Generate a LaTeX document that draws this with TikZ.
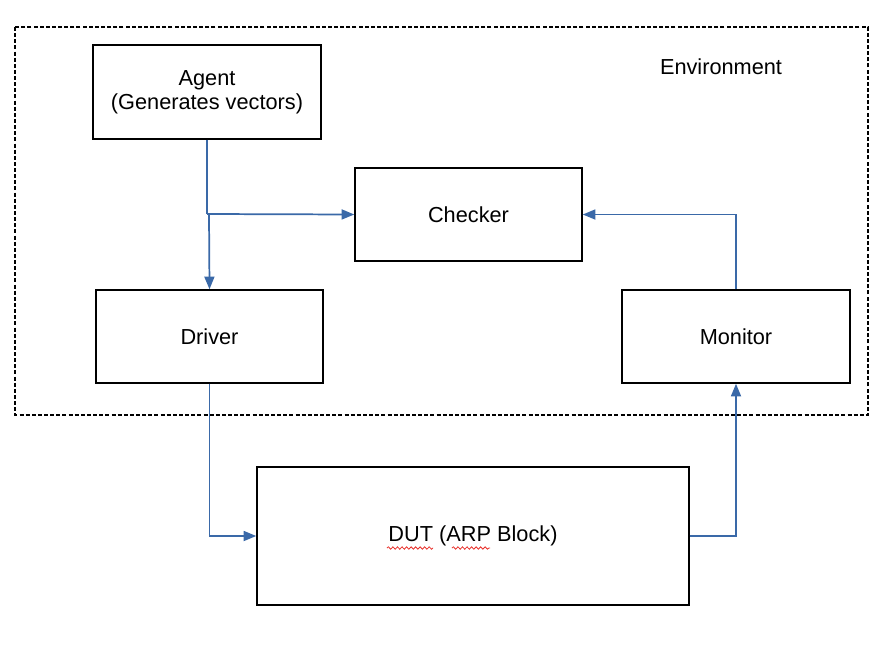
\documentclass[tikz,border=0pt]{standalone}
\usepackage{fontspec}
\setmainfont{Liberation Sans}
\usetikzlibrary{arrows.meta,decorations.pathmorphing}
\definecolor{linkblue}{HTML}{3A69A8}
\definecolor{squig}{HTML}{E8302A}
\tikzset{
  txt/.style={font=\fontsize{16.3}{18}\selectfont},
  blk/.style={draw=black,line width=1.1pt,inner sep=0pt,align=center,txt},
  conn/.style={draw=linkblue,line width=1.3pt,-{Triangle[length=9.5pt,width=7.5pt]}},
  wire/.style={draw=linkblue,line width=1.3pt},
  envbox/.style={draw=black,line width=1.1pt,dash pattern=on 3pt off 1.6pt},
  wavy/.style={draw=squig,line width=0.6pt,decorate,decoration={snake,amplitude=0.9pt,segment length=3.4pt}}
}
\begin{document}
\begin{tikzpicture}[x=0.75pt,y=-0.75pt]
\useasboundingbox (0,0) rectangle (885,647);
\draw[envbox] (15,27) rectangle (868,415);
\node[txt] (envlabel) at (721,67) {Environment};
\node[blk,minimum width=228*0.75pt,minimum height=94*0.75pt] (agent) at (207,92) {Agent\\(Generates vectors)};
\node[blk,minimum width=227*0.75pt,minimum height=93*0.75pt] (checker) at (468.5,214.5) {Checker};
\node[blk,minimum width=227*0.75pt,minimum height=93*0.75pt] (driver) at (209.5,336.5) {Driver};
\node[blk,minimum width=228*0.75pt,minimum height=93*0.75pt] (monitor) at (736,336.5) {Monitor};
\node[blk,minimum width=432*0.75pt,minimum height=138*0.75pt] (dut) at (473,536) {DUT (ARP Block)};
\coordinate (junc) at (207,214);
\coordinate (jdrv) at (209,214);
\draw[wire] (agent.south) -- (junc);
\draw[conn] (junc) -- (checker.west);
\draw[conn] (jdrv) -- (driver.north);
\draw[conn] (driver.south) |- (dut.west);
\draw[conn] (dut.east) -| (monitor.south);
\draw[conn] (monitor.north) |- (checker.east);
\draw[wavy] (387,548) -- (433,548);
\draw[wavy] (452,548) -- (490,548);
\end{tikzpicture}
\end{document}
